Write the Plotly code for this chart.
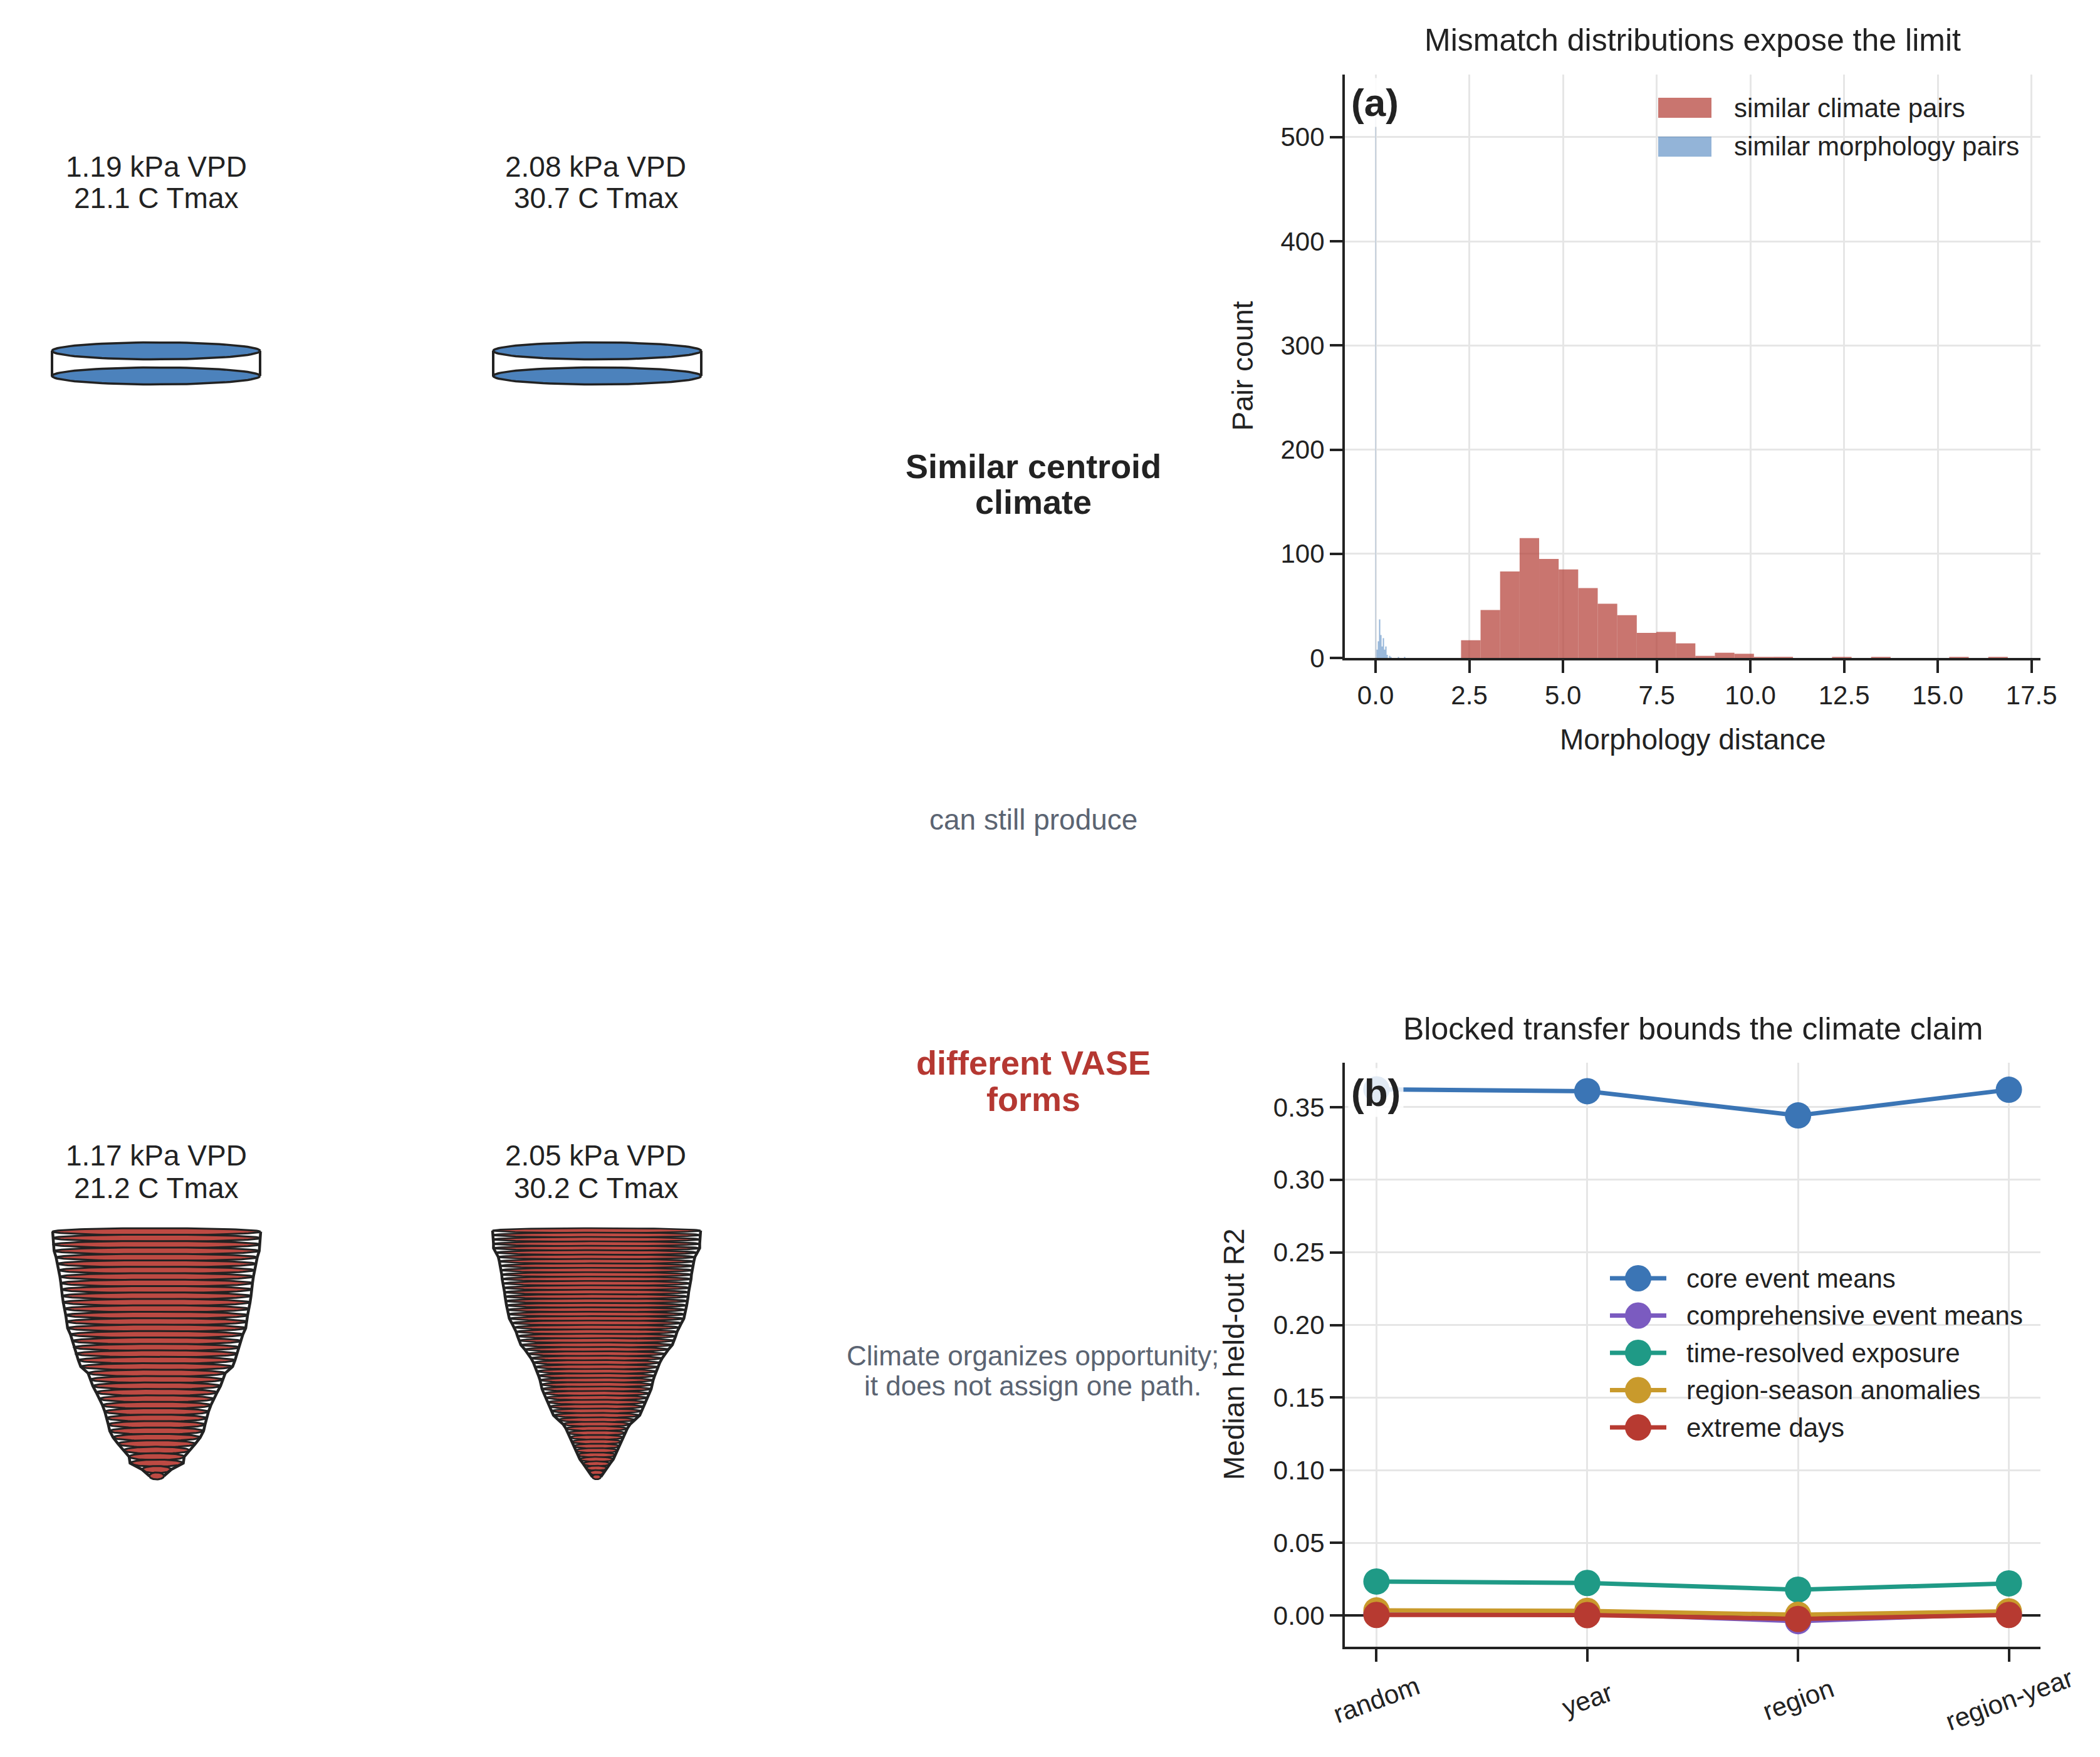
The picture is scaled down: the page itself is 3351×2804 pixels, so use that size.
import numpy as np
import plotly.graph_objects as go

W, H = 3351, 2804

# ---------------- data ----------------
# panel (a): histogram of morphology distance
climate_pair_counts = [17, 46, 83, 115, 95, 85, 67, 52, 41, 24, 25, 14, 2, 5, 4,
                       1, 1, 0, 0, 1, 0, 1, 0, 0, 0, 1, 0, 1]
climate_bin_start = 2.28
climate_bin_width = 0.521

morph_pair_counts = [8, 16, 37, 22, 11, 19, 8, 11, 3, 0, 2, 1, 0, 0, 0, 0, 0, 1,
                     0, 0, 0, 0, 1]
morph_bin_start = 0.025
morph_bin_width = 0.0334
morph_zero_count = 533          # pairs at distance 0.0
morph_zero_width = 0.01

x_ticks_a = [0.0, 2.5, 5.0, 7.5, 10.0, 12.5, 15.0, 17.5]
y_ticks_a = [0, 100, 200, 300, 400, 500]

# panel (b): blocked transfer
splits = ["random", "year", "region", "region-year"]
series_names = ["core event means", "comprehensive event means",
                "time-resolved exposure", "region-season anomalies", "extreme days"]
core_event_means = [0.3623, 0.3610, 0.3443, 0.3620]
comprehensive_event_means = [0.0015, 0.0012, -0.0040, 0.0012]
time_resolved_exposure = [0.0233, 0.0223, 0.0177, 0.0220]
region_season_anomalies = [0.0034, 0.0031, 0.0004, 0.0028]
extreme_days = [0.0003, 0.0002, -0.0025, 0.0003]
y_ticks_b = [0.0, 0.05, 0.10, 0.15, 0.20, 0.25, 0.30, 0.35]

# schematic: climate labels and layer radii (fraction of rim radius)
top_pair_labels = [["1.19 kPa VPD", "21.1 C Tmax"], ["2.08 kPa VPD", "30.7 C Tmax"]]
bottom_pair_labels = [["1.17 kPa VPD", "21.2 C Tmax"], ["2.05 kPa VPD", "30.2 C Tmax"]]
disc_layer_radius = [1.0, 1.0]
vase_left_layer_radius = [1.00, 0.995, 0.995, 0.986, 0.967, 0.953, 0.940, 0.930, 0.921,
                          0.916, 0.907, 0.898, 0.884, 0.874, 0.865, 0.856, 0.828, 0.809,
                          0.795, 0.777, 0.753, 0.730, 0.660, 0.637, 0.614, 0.581, 0.549,
                          0.521, 0.498, 0.479, 0.465, 0.451, 0.419, 0.372, 0.316, 0.265,
                          0.256, 0.140, 0.070]
vase_right_layer_radius = [1.00, 0.995, 0.995, 0.991, 0.991, 0.968, 0.945, 0.935, 0.926,
                           0.922, 0.912, 0.908, 0.899, 0.894, 0.885, 0.880, 0.876, 0.866,
                           0.857, 0.848, 0.839, 0.816, 0.793, 0.774, 0.760, 0.747, 0.728,
                           0.691, 0.659, 0.631, 0.608, 0.590, 0.571, 0.558, 0.544, 0.535,
                           0.525, 0.507, 0.488, 0.470, 0.452, 0.433, 0.415, 0.369, 0.323,
                           0.295, 0.276, 0.258, 0.240, 0.221, 0.203, 0.184, 0.161, 0.129,
                           0.101, 0.069, 0.041]

# ---------------- style ----------------
FONT = "Liberation Sans, Arial, Helvetica, sans-serif"
DARK = "#222222"
GRAY = "#5b6472"
RED_TXT = "#b53832"
GRID = "#e6e6e6"
EDGE = "#222222"
BLUE_FILL = "#4c82bc"
RED_FILL = "#bd4a43"
series_colors = ["#3b75b5", "#7b5bc0", "#1f9a86", "#c99a2c", "#b73a31"]
hist_red = "rgba(178,58,50,0.70)"
hist_blue = "rgba(58,118,184,0.55)"


def px(x):
    return x / W


def py(y):
    return 1 - y / H


fig = go.Figure()

# ---------------- panel (a) ----------------
c_left = climate_bin_start + climate_bin_width * np.arange(len(climate_pair_counts))
fig.add_trace(go.Bar(x=c_left + climate_bin_width / 2, y=climate_pair_counts,
                     width=[climate_bin_width] * len(climate_pair_counts),
                     marker=dict(color=hist_red, line=dict(width=0)),
                     xaxis="x", yaxis="y", showlegend=False, hoverinfo="skip"))
m_left = morph_bin_start + morph_bin_width * np.arange(len(morph_pair_counts))
fig.add_trace(go.Bar(x=list(m_left + morph_bin_width / 2) + [0.0],
                     y=morph_pair_counts + [morph_zero_count],
                     width=[morph_bin_width] * len(morph_pair_counts) + [morph_zero_width],
                     marker=dict(color=hist_blue, line=dict(width=0)),
                     xaxis="x", yaxis="y", showlegend=False, hoverinfo="skip"))

# ---------------- panel (b) ----------------
series_values = [core_event_means, comprehensive_event_means, time_resolved_exposure,
                 region_season_anomalies, extreme_days]
xb = list(range(len(splits)))
for name, vals, col in zip(series_names, series_values, series_colors):
    fig.add_trace(go.Scatter(x=xb, y=vals, mode="lines+markers", name=name,
                             line=dict(color=col, width=7),
                             marker=dict(color=col, size=42),
                             xaxis="x2", yaxis="y2", showlegend=False, hoverinfo="skip"))

# ---------------- schematic (pixel overlay axes) ----------------
R_PX = 166
theta = np.linspace(0, 2 * np.pi, 90)


def draw_stack(cx, first_cy, spacing, half_h, radii, fill, ew, sw):
    radii = np.asarray(radii)
    for k, r in enumerate(radii):
        cy = first_cy + k * spacing
        rx = r * R_PX
        fig.add_trace(go.Scatter(x=cx + rx * np.cos(theta), y=cy + half_h * np.sin(theta),
                                 mode="lines", fill="toself", fillcolor=fill,
                                 line=dict(color=EDGE, width=ew),
                                 xaxis="x3", yaxis="y3", showlegend=False,
                                 hoverinfo="skip"))
    ys = first_cy + spacing * np.arange(len(radii))
    for sgn in (-1, 1):
        fig.add_trace(go.Scatter(x=cx + sgn * radii * R_PX, y=ys, mode="lines",
                                 line=dict(color=EDGE, width=sw),
                                 xaxis="x3", yaxis="y3", showlegend=False,
                                 hoverinfo="skip"))


draw_stack(249, 560, 40, 13.5, disc_layer_radius, BLUE_FILL, 3.5, 4)
draw_stack(953, 560, 40, 13.5, disc_layer_radius, BLUE_FILL, 3.5, 4)
draw_stack(250, 1965.6, 10.26, 5.6, vase_left_layer_radius, RED_FILL, 3.0, 4.5)
draw_stack(952, 1963.9, 7.02, 3.9, vase_right_layer_radius, RED_FILL, 2.6, 4.5)

# legend (b) samples
leg_b_y0, leg_b_dy = 2040, 59.5
for i, col in enumerate(series_colors):
    yy = leg_b_y0 + i * leg_b_dy
    fig.add_trace(go.Scatter(x=[2569, 2659], y=[yy, yy], mode="lines",
                             line=dict(color=col, width=7), xaxis="x3", yaxis="y3",
                             showlegend=False, hoverinfo="skip"))
    fig.add_trace(go.Scatter(x=[2614], y=[yy], mode="markers",
                             marker=dict(color=col, size=42), xaxis="x3", yaxis="y3",
                             showlegend=False, hoverinfo="skip"))

annotations = []


def text(x, y, s, size, color=DARK, bold=False, xanchor="center", angle=0, **kw):
    annotations.append(dict(x=px(x), y=py(y), xref="paper", yref="paper",
                            text=("<b>%s</b>" % s) if bold else s, showarrow=False,
                            xanchor=xanchor, yanchor="middle", textangle=angle,
                            font=dict(family=FONT, size=size, color=color), **kw))


# schematic labels
for (l1, l2), cx in zip(top_pair_labels, (249, 951)):
    text(cx, 266, l1, 46)
    text(cx, 316, l2, 46)
for (l1, l2), cx in zip(bottom_pair_labels, (249, 951)):
    text(cx, 1844, l1, 46)
    text(cx, 1896, l2, 46)
text(1649, 744, "Similar centroid", 54, bold=True)
text(1649, 801, "climate", 54, bold=True)
text(1649, 1308, "can still produce", 46, color=GRAY)
text(1649, 1696, "different VASE", 54, color=RED_TXT, bold=True)
text(1649, 1754, "forms", 54, color=RED_TXT, bold=True)
text(1648, 2163, "Climate organizes opportunity;", 44, color=GRAY)
text(1648, 2211, "it does not assign one path.", 44, color=GRAY)

# panel titles / axis titles
AX_L, AX_R = 2146, 3256
A_TOP, A_BOT = 119, 1050
B_TOP, B_BOT = 1696, 2628
AX_C = (AX_L + AX_R) / 2
text(AX_C, 64, "Mismatch distributions expose the limit", 50)
text(AX_C, 1642, "Blocked transfer bounds the climate claim", 50)
text(AX_C, 1180, "Morphology distance", 46)
text(1982, (A_TOP + A_BOT) / 2, "Pair count", 46, angle=-90)
text(1969, (B_TOP + B_BOT) / 2, "Median held-out R2", 46, angle=-90)

# panel letters
text(2151, 164, "(a)", 62, bold=True, xanchor="left",
     bgcolor="rgba(255,255,255,0.85)", borderpad=4)
text(2151, 1744, "(b)", 62, bold=True, xanchor="left",
     bgcolor="rgba(255,255,255,0.85)", borderpad=4)

# legend (a)
shapes = []
for i, (lab, col) in enumerate([("similar climate pairs", hist_red),
                                 ("similar morphology pairs", hist_blue)]):
    yy = 172 + i * 62
    shapes.append(dict(type="rect", xref="paper", yref="paper",
                       x0=px(2646), x1=px(2731), y0=py(yy - 16), y1=py(yy + 16),
                       fillcolor=col, line=dict(width=0), layer="above"))
    text(2765, yy, lab, 42, xanchor="left")

# legend (b) labels
for i, name in enumerate(series_names):
    text(2689, leg_b_y0 + i * leg_b_dy, name, 42, xanchor="left")

# rotated category labels (b)
for i, lab in enumerate(splits):
    annotations.append(dict(x=i, xref="x2", y=py(2712), yref="paper", text=lab,
                            showarrow=False, textangle=-20, xanchor="center",
                            yanchor="middle",
                            font=dict(family=FONT, size=42, color=DARK)))

axis_common = dict(showline=True, linecolor=DARK, linewidth=4, ticks="outside",
                   ticklen=20, tickwidth=4, tickcolor=DARK, showgrid=True,
                   gridcolor=GRID, gridwidth=2.5, zeroline=False,
                   tickfont=dict(family=FONT, size=42, color=DARK), mirror=False,
                   automargin=False, fixedrange=True)

fig.update_layout(
    width=W, height=H, margin=dict(l=0, r=0, t=0, b=0, pad=0),
    paper_bgcolor="white", plot_bgcolor="rgba(0,0,0,0)", template="none",
    barmode="overlay", showlegend=False,
    xaxis=dict(axis_common, domain=[px(AX_L), px(AX_R)], range=[-0.82, 17.74],
               tickvals=x_ticks_a, ticktext=["%.1f" % v for v in x_ticks_a], anchor="y"),
    yaxis=dict(axis_common, domain=[py(A_BOT), py(A_TOP)], range=[0, 560],
               tickvals=y_ticks_a, ticktext=[str(v) for v in y_ticks_a], anchor="x"),
    xaxis2=dict(axis_common, domain=[px(AX_L), px(AX_R)], range=[-0.15, 3.15],
                tickvals=xb, showticklabels=False, anchor="y2"),
    yaxis2=dict(axis_common, domain=[py(B_BOT), py(B_TOP)], range=[-0.0216, 0.3806],
                tickvals=y_ticks_b, ticktext=["%.2f" % v for v in y_ticks_b],
                zeroline=True, zerolinecolor=DARK, zerolinewidth=3.5, anchor="x2"),
    xaxis3=dict(domain=[0, 1], range=[0, W], visible=False, fixedrange=True,
                anchor="y3"),
    yaxis3=dict(domain=[0, 1], range=[H, 0], visible=False, fixedrange=True,
                anchor="x3"),
    annotations=annotations, shapes=shapes,
    font=dict(family=FONT, color=DARK),
)

fig.write_html("out.html", config={"displayModeBar": False},
               post_script="document.body.style.margin='0';document.body.style.overflow='hidden';")
